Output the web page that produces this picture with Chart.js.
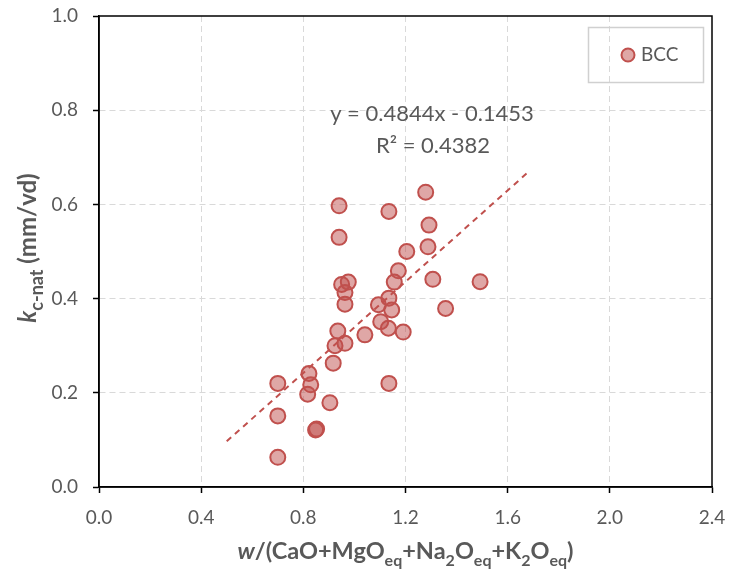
<!DOCTYPE html>
<html>
<head>
<meta charset="utf-8">
<script src="https://cdn.jsdelivr.net/npm/chart.js@4.4.1/dist/chart.umd.min.js"></script>
<style>
  html, body { margin: 0; padding: 0; background: #fff; }
  #wrap { width: 731px; height: 576px; position: relative; }
</style>
</head>
<body>
<div id="wrap"><canvas id="c" width="731" height="576"></canvas></div>
<script>
// ---- data ----
const seriesName = "BCC";
const bccX = [0.700, 0.700, 0.700, 0.852, 0.848, 0.817, 0.829, 0.822, 0.904, 0.917,
              0.924, 0.963, 0.935, 1.041, 1.133, 1.191, 1.135, 1.103, 1.146, 1.094,
              1.135, 0.963, 0.963, 0.950, 0.976, 1.156, 1.172, 1.307, 1.492, 1.357,
              1.205, 1.288, 1.292, 1.279, 1.135, 0.940, 0.940];
const bccY = [0.063, 0.151, 0.220, 0.123, 0.121, 0.197, 0.217, 0.241, 0.179, 0.263,
              0.300, 0.305, 0.331, 0.323, 0.337, 0.329, 0.220, 0.351, 0.376, 0.387,
              0.401, 0.388, 0.413, 0.430, 0.435, 0.435, 0.459, 0.441, 0.436, 0.379,
              0.500, 0.510, 0.556, 0.626, 0.585, 0.597, 0.530];
const trendSlope = 0.4844;
const trendIntercept = -0.1453;
const trendR2 = 0.4382;
const trendRangeX = [0.5, 1.675];
const xTickLabels = ["0.0", "0.4", "0.8", "1.2", "1.6", "2.0", "2.4"];
const yTickLabels = ["0.0", "0.2", "0.4", "0.6", "0.8", "1.0"];

// ---- styles ----
const FONT = "Lato, 'Open Sans', sans-serif";
const TXT = "#595959";
const RED = "#C0504D";
const FILL = "rgba(192,80,77,0.5)";

const scatterData = bccX.map((x, i) => ({ x: x, y: bccY[i] }));
const trendData = trendRangeX.map(x => ({ x: x, y: trendSlope * x + trendIntercept }));

function drawRich(ctx, parts, x, y, size, align, subRatio) {
  const subSize = Math.round(size * subRatio);
  let total = 0;
  const fontOf = p => (p.italic ? "italic " : "") + "bold " + (p.sub ? subSize : size) + "px " + FONT;
  parts.forEach(p => { ctx.font = fontOf(p); p.w = ctx.measureText(p.t).width; total += p.w; });
  let cx = align === "center" ? x - total / 2 : x;
  ctx.textAlign = "left";
  ctx.textBaseline = "alphabetic";
  parts.forEach(p => {
    ctx.font = fontOf(p);
    ctx.fillText(p.t, cx, y + (p.sub ? size * 0.28 : 0));
    cx += p.w;
  });
}

const decor = {
  id: "decor",
  afterDatasetsDraw(chart) {
    const ctx = chart.ctx;
    const a = chart.chartArea;
    ctx.save();
    // frame
    ctx.strokeStyle = "#000";
    ctx.lineWidth = 1.5;
    ctx.strokeRect(a.left, a.top, a.right - a.left, a.bottom - a.top);

    // trend equation
    ctx.fillStyle = TXT;
    ctx.font = "22px " + FONT;
    ctx.textAlign = "center";
    ctx.textBaseline = "middle";
    const ex = a.left + 333;
    ctx.fillText("y = " + trendSlope.toFixed(4) + "x - " + Math.abs(trendIntercept).toFixed(4), ex, 114);
    ctx.fillText("R\u00B2 = " + trendR2.toFixed(4), ex + 1, 146);

    // legend
    ctx.strokeStyle = "#D0D0D0";
    ctx.lineWidth = 1.5;
    ctx.strokeRect(588.5, 27.5, 115, 55);
    ctx.beginPath();
    ctx.arc(628, 55, 6.5, 0, Math.PI * 2);
    ctx.fillStyle = FILL;
    ctx.fill();
    ctx.lineWidth = 2;
    ctx.strokeStyle = RED;
    ctx.stroke();
    ctx.fillStyle = TXT;
    ctx.font = "19px " + FONT;
    ctx.textAlign = "left";
    ctx.textBaseline = "middle";
    ctx.fillText(seriesName, 641, 55);

    // x title
    ctx.fillStyle = TXT;
    drawRich(ctx, [
      { t: "w", italic: true }, { t: "/(CaO+MgO" }, { t: "eq", sub: true },
      { t: "+Na" }, { t: "2", sub: true }, { t: "O" }, { t: "eq", sub: true },
      { t: "+K" }, { t: "2", sub: true }, { t: "O" }, { t: "eq", sub: true }, { t: ")" }
    ], (a.left + a.right) / 2, 559, 23.5, "center", 0.68);

    // y title
    ctx.translate(36, 248);
    ctx.rotate(-Math.PI / 2);
    drawRich(ctx, [
      { t: "k", italic: true }, { t: "c-nat", sub: true }, { t: " (mm/vd)" }
    ], 0, 0, 24, "center", 0.74);
    ctx.restore();
  }
};

const edgeColor = (max) => (c) => {
  const v = c.tick ? c.tick.value : 0;
  return (Math.abs(v) < 1e-9 || Math.abs(v - max) < 1e-9) ? "rgba(0,0,0,0)" : "#D9D9D9";
};

new Chart(document.getElementById("c"), {
  type: "scatter",
  data: {
    datasets: [
      {
        label: seriesName,
        data: scatterData,
        pointRadius: 7.5,
        pointHoverRadius: 7.5,
        pointBackgroundColor: FILL,
        pointBorderColor: RED,
        pointBorderWidth: 2,
        order: 2
      },
      {
        label: "trend",
        type: "line",
        data: trendData,
        borderColor: RED,
        borderWidth: 2,
        borderDash: [6, 5],
        pointRadius: 0,
        fill: false,
        order: 1
      }
    ]
  },
  options: {
    responsive: false,
    animation: false,
    devicePixelRatio: 1,
    layout: { padding: { top: 16, right: 19, left: 0, bottom: 0 } },
    plugins: { legend: { display: false }, tooltip: { enabled: false } },
    scales: {
      x: {
        type: "linear",
        min: 0, max: 2.4,
        afterFit: s => { s.height = 89; s.paddingLeft = 0; s.paddingRight = 0; },
        ticks: {
          stepSize: 0.4,
          color: TXT,
          font: { family: FONT, size: 19 },
          padding: 13,
          maxRotation: 0,
          callback: (v, i) => xTickLabels[i]
        },
        grid: {
          color: edgeColor(2.4),
          lineWidth: 1,
          drawTicks: true,
          tickLength: 6,
          tickColor: "#000",
          tickWidth: 1.5,
          tickBorderDash: []
        },
        border: { display: true, color: "#000", width: 1.5, dash: [6, 4] }
      },
      y: {
        type: "linear",
        min: 0, max: 1.0,
        afterFit: s => { s.width = 99; s.paddingTop = 0; s.paddingBottom = 0; },
        ticks: {
          stepSize: 0.2,
          color: TXT,
          font: { family: FONT, size: 19 },
          padding: 15,
          callback: (v, i) => yTickLabels[i]
        },
        grid: {
          color: edgeColor(1.0),
          lineWidth: 1,
          drawTicks: true,
          tickLength: 6,
          tickColor: "#000",
          tickWidth: 1.5,
          tickBorderDash: []
        },
        border: { display: true, color: "#000", width: 1.5, dash: [6, 4] }
      }
    }
  },
  plugins: [decor]
});
</script>
</body>
</html>
